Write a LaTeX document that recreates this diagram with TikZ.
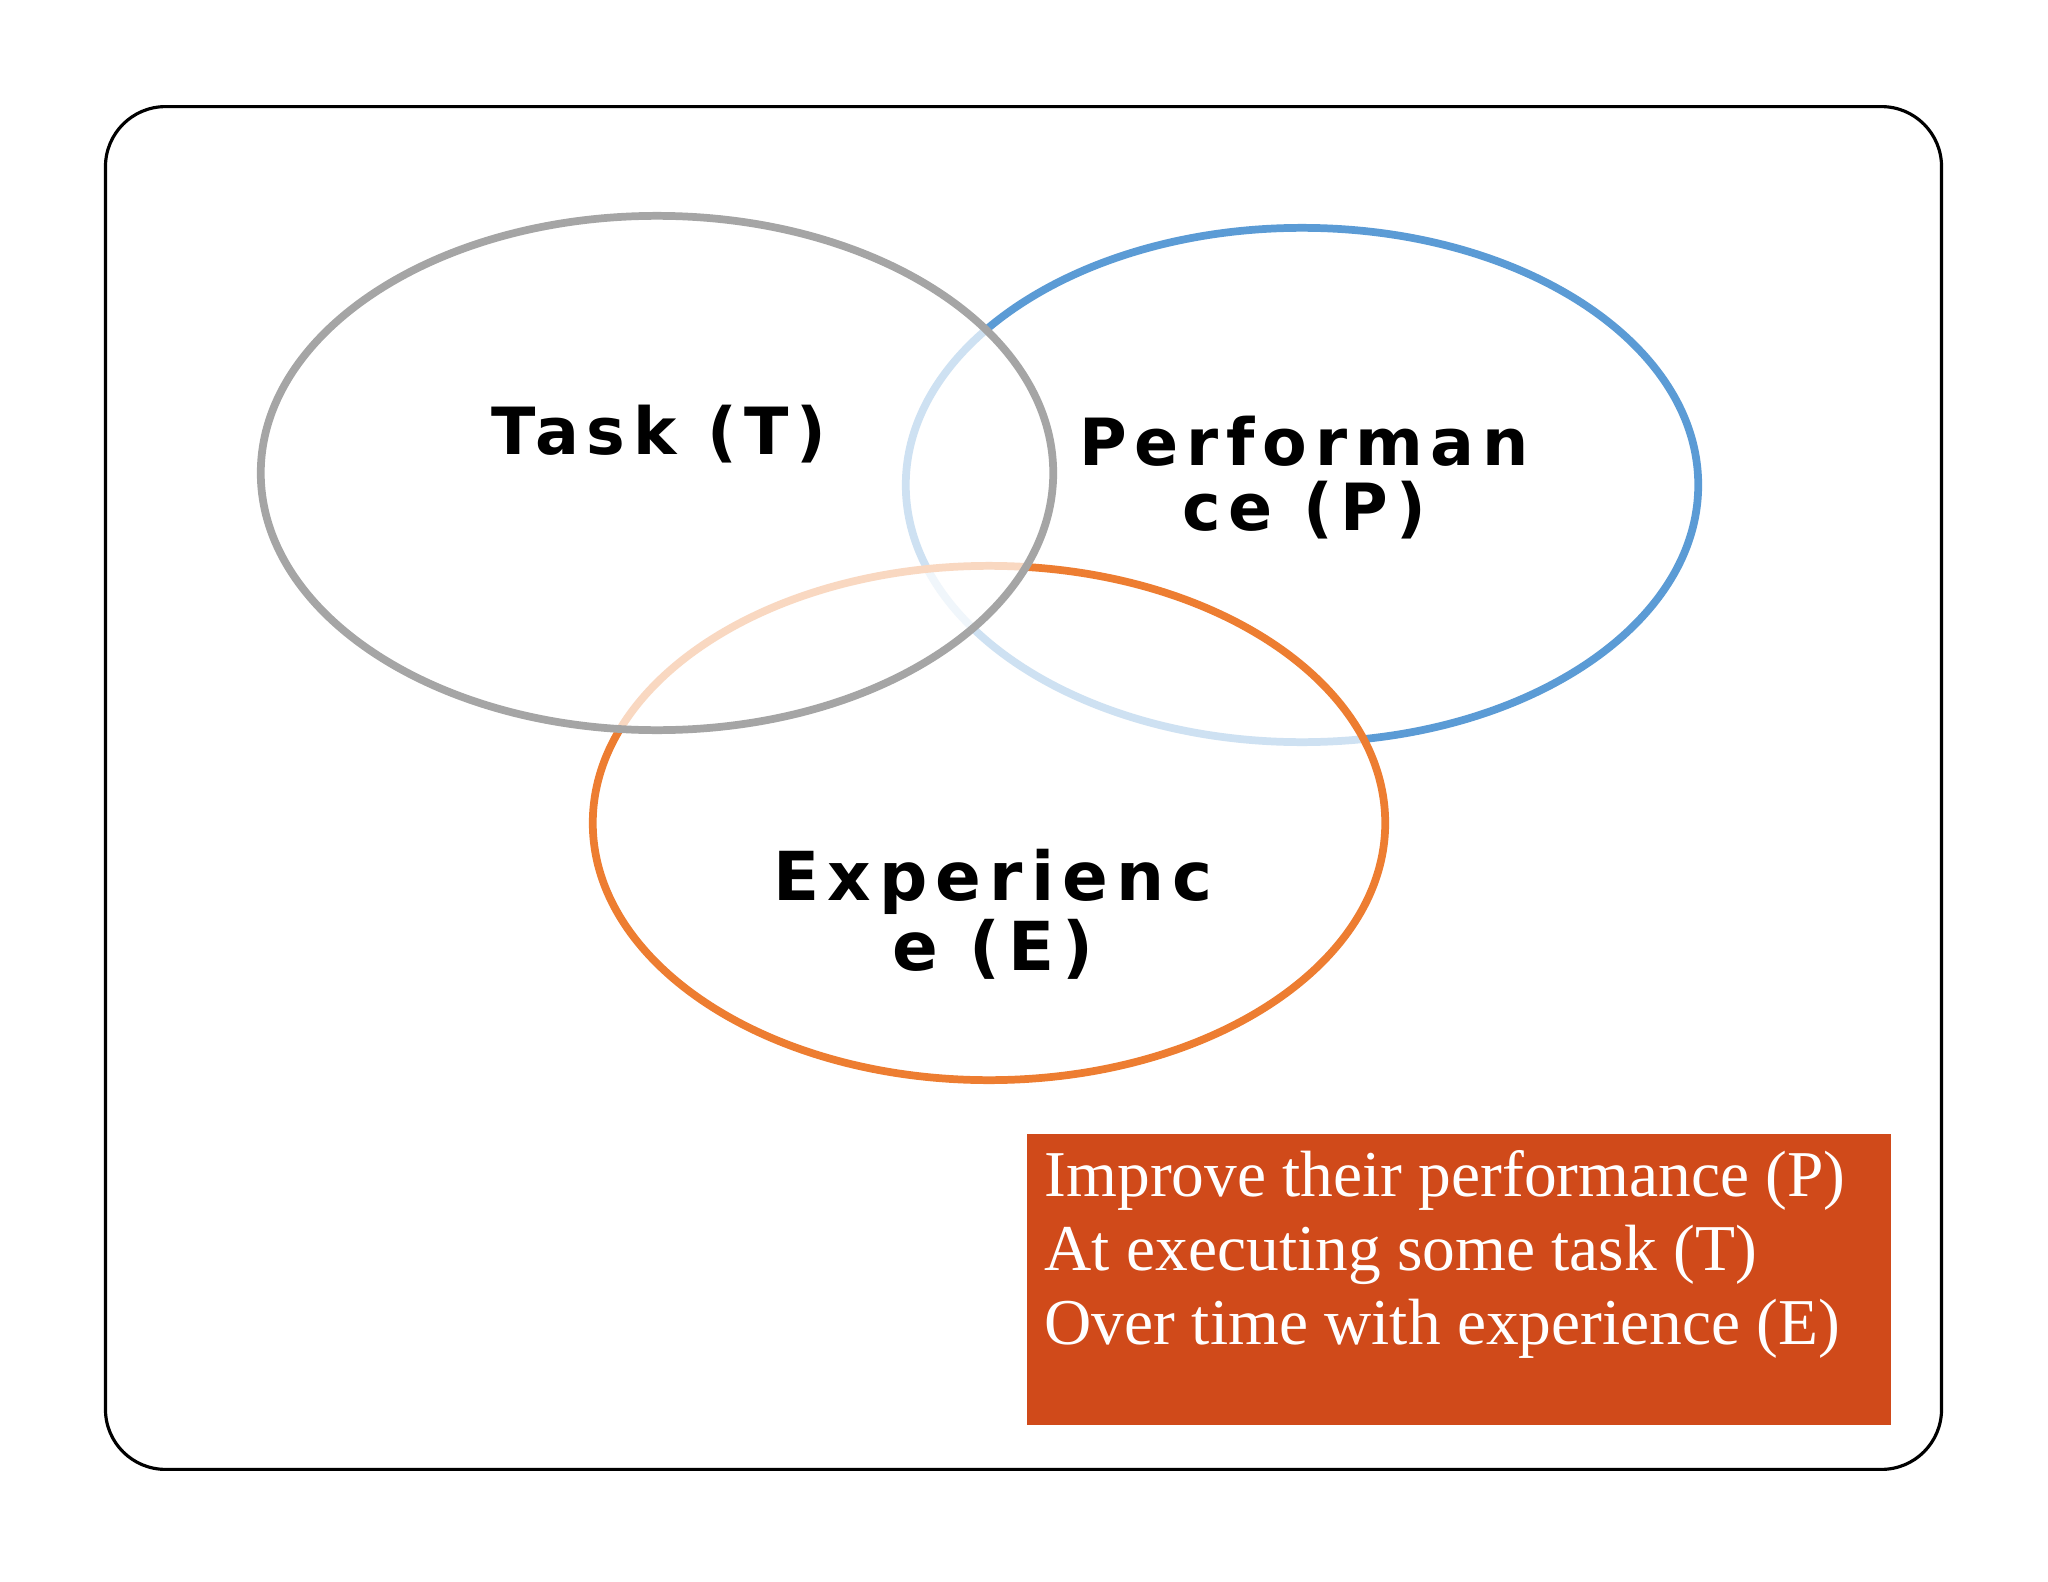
\documentclass[tikz,border=0pt]{standalone}
\usepackage{fontspec}
\usetikzlibrary{shapes.geometric,positioning}

\newfontfamily\vennfont[LetterSpace=12]{DejaVu Sans}
\newfontfamily\boxfont{Liberation Serif}
\definecolor{taskgray}{HTML}{A5A5A5}
\definecolor{perfblue}{HTML}{5B9BD5}
\definecolor{exporange}{HTML}{ED7D31}
\definecolor{boxred}{HTML}{D04A1A}

\begin{document}
\begin{tikzpicture}[x=0.01cm, y=-0.01cm,
    venn/.style={ellipse, draw, line width=2.2pt, fill=white, fill opacity=0.7,
        minimum width=7.92cm, minimum height=5.14cm, inner sep=0pt},
    vlabel/.style={font=\vennfont\bfseries\fontsize{18.5}{18.5}\selectfont,
        align=center, inner sep=0pt}]

    \useasboundingbox (0, 0) rectangle (2048, 1582);

    % 1. Khung ngoai bo goc
    \node[draw, line width=0.9pt, rounded corners=0.6cm, minimum width=18.35cm,
        minimum height=13.62cm, inner sep=0pt] (frame) at (1023.5, 788) {};

    % 2. Ba hinh elip (P duoi cung, E giua, T tren cung)
    \node[venn, draw=perfblue] (perf) at (1302, 485) {};
    \node[venn, draw=exporange] (exp) at (989, 823) {};
    \node[venn, draw=taskgray] (task) at (657, 473) {};

    % 3. Nhan trong elip
    \node[vlabel] (tasklbl) at (659, 434) {Task (T)};
    \node[vlabel] (perflbl) at (1304, 478) {Performan\\ce (P)};
    \node[vlabel, font=\vennfont\bfseries\fontsize{19.2}{20}\selectfont] (explbl) at (993, 914) {Experienc\\e (E)};

    % 4. O chu mau cam
    \node[fill=boxred, minimum width=8.64cm, minimum height=2.91cm, inner sep=0pt] (box) at (1459, 1279.5) {};
    \node[anchor=north west, align=left, inner sep=0pt, text=white,
        font=\boxfont\fontsize{18.6}{21}\selectfont] (boxtext) at (1044, 1150)
        {Improve their performance (P)\\At executing some task (T)\\Over time with experience (E)};

\end{tikzpicture}
\end{document}
